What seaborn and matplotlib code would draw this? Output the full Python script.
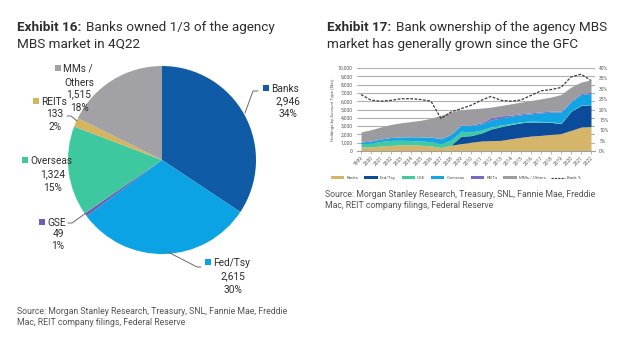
import matplotlib
matplotlib.use("Agg")
import matplotlib.pyplot as plt
import seaborn as sns
import numpy as np
import pandas as pd
from matplotlib.lines import Line2D
from matplotlib.patches import Patch, Rectangle

# ---------------- data ----------------
pie_names = ["Banks", "Fed/Tsy", "GSE", "Overseas", "REITs", "MMs /\nOthers"]
pie_values = [2946, 2615, 49, 1324, 133, 1515]
pie_colors = ["#0f5ba6", "#0ba3e3", "#6a5fb4", "#3ec8a0", "#d6b45e", "#a2a2a6"]

years = list(range(1999, 2023))
banks = [480, 500, 600, 680, 740, 760, 700, 620, 420, 700, 880, 1050, 1200, 1250,
         1280, 1480, 1650, 1800, 1880, 2000, 2100, 2480, 2880, 2946]
fed = [0, 0, 0, 0, 0, 0, 0, 0, 0, 0, 900, 800, 950, 1400,
       1650, 1700, 1750, 1700, 1600, 1450, 1200, 2300, 2600, 2615]
gse = [400, 450, 550, 600, 550, 500, 500, 500, 450, 600, 600, 450, 350, 250,
       200, 150, 120, 100, 80, 70, 60, 50, 50, 49]
overseas = [200, 250, 300, 350, 400, 450, 500, 550, 600, 700, 700, 750, 750, 850,
            850, 850, 840, 880, 1040, 1160, 1340, 1100, 1270, 1324]
reits = [0, 0, 0, 0, 0, 0, 10, 10, 10, 20, 50, 100, 150, 250,
         250, 150, 130, 120, 110, 110, 120, 100, 120, 133]
others = [1220, 1360, 1450, 1570, 1710, 1840, 1990, 2270, 2820, 2680, 1830, 1930, 1760, 1280,
          1250, 1350, 1390, 1480, 1570, 1710, 1980, 1670, 1380, 1515]
bank_pct = [27.2, 24.5, 24.0, 24.4, 25.2, 25.2, 24.8, 24.0, 15.6, 18.8, 20.4, 22.0, 24.4, 26.3,
            24.4, 24.0, 24.6, 26.8, 29.0, 29.6, 30.6, 35.7, 37.0, 34.0]
series_names = ["Banks", "Fed/Tsy", "GSE", "Overseas", "REITs", "MMs / Others"]
area_colors = ["#d4b56a", "#0b4c9a", "#40c9a2", "#13a4e4", "#7a68c6", "#9c9ca0"]
line_name = "Bank %"
left_ticks = list(range(0, 10001, 1000))
right_ticks = list(range(0, 41, 5))

title1_bold = "Exhibit 16:"
title1_rest = ["Banks owned 1/3 of the agency", "MBS market in 4Q22"]
title2_bold = "Exhibit 17:"
title2_rest = ["Bank ownership of the agency MBS", "market has generally grown since the GFC"]
source = ["Source: Morgan Stanley Research, Treasury, SNL, Fannie Mae, Freddie",
          "Mac, REIT company filings, Federal Reserve"]
ylabel = "Holdings by Account Type ($bn)"

# ---------------- setup ----------------
W, H = 640, 342
sns.set_theme(style="white")
plt.rcParams["font.family"] = ["Roboto", "DejaVu Sans"]
fig = plt.figure(figsize=(W / 100, H / 100), dpi=100)
fig.patch.set_facecolor("white")


def fx(px):
    return px / W


def fy(py):
    return 1 - py / H


TXT = "#2e2e2e"
renderer = fig.canvas.get_renderer()


def title(x, y1, y2, bold, rest):
    t = fig.text(fx(x), fy(y1), bold, fontsize=9.7, fontweight="bold", color=TXT, va="baseline")
    bb = t.get_window_extent(renderer=renderer)
    fig.text(bb.x1 / W + fx(5), fy(y1), rest[0], fontsize=9.7, color=TXT, va="baseline")
    fig.text(fx(x), fy(y2), rest[1], fontsize=9.7, color=TXT, va="baseline")


title(17, 30.7, 47.7, title1_bold, title1_rest)
title(327, 30.7, 47.7, title2_bold, title2_rest)

# ---------------- pie ----------------
cx, cy, r = 162, 160, 94
ax_pie = fig.add_axes([fx(cx - r), fy(cy + r), 2 * r / W, 2 * r / H])
ax_pie.pie(pie_values, colors=pie_colors, startangle=90, counterclock=False,
           wedgeprops=dict(linewidth=0))
ax_pie.set_xlim(-1, 1)
ax_pie.set_ylim(-1, 1)
ax_pie.axis("off")

total = sum(pie_values)
# layout: marker position, text centre x, line y centres, leader polyline
layout = [
    dict(m=(266, 88), cxt=288, ys=[88, 101, 113], lead=[(258, 91), (253, 91), (245, 113)]),
    dict(m=(208, 262), cxt=233, ys=[262, 276, 289], lead=[(201, 267), (197, 267), (168, 252)]),
    dict(m=(42, 222), cxt=58, ys=[222, 233.5, 245.5], lead=[(68, 223), (72, 223), (86, 213)]),
    dict(m=(25, 160), cxt=53, ys=[160, 174, 187], lead=None),
    dict(m=(36, 101), cxt=55, ys=[101, 113, 126], lead=[(67, 116), (71, 116), (77, 121)]),
    dict(m=(58, 68), cxt=79, ys=[68, 82, 94, 107], lead=None),
]
for name, val, col, lay in zip(pie_names, pie_values, pie_colors, layout):
    lines = name.split("\n") + [f"{val:,}", f"{round(100 * val / total)}%"]
    for i, (ln, yy) in enumerate(zip(lines, lay["ys"])):
        xx = lay["cxt"]
        if i == 0:
            fig.text(fx(lay["m"][0] + 5), fy(yy + 3.6), ln, fontsize=7.3, color=TXT,
                     ha="left", va="baseline")
        else:
            fig.text(fx(xx), fy(yy + 3.6), ln, fontsize=7.3, color=TXT, ha="center", va="baseline")
    mx, my = lay["m"]
    fig.add_artist(Rectangle((fx(mx - 2.6), fy(my + 2.6)), 5.2 / W, 5.2 / H,
                             transform=fig.transFigure, color=col, lw=0))
    if lay["lead"]:
        xs = [fx(p[0]) for p in lay["lead"]]
        ys = [fy(p[1]) for p in lay["lead"]]
        fig.add_artist(Line2D(xs, ys, transform=fig.transFigure, color="#6a6a6a", lw=0.7))

for i, s in enumerate(source):
    fig.text(fx(17), fy(314.3 + 11 * i), s, fontsize=6.35, color="#555555", va="baseline")

# ---------------- stacked area ----------------
ax = fig.add_axes([fx(357), fy(151), (595 - 357) / W, (151 - 68) / H])
ax.stackplot(years, banks, fed, gse, overseas, reits, others, colors=area_colors,
             linewidth=0, labels=series_names)
ax.set_xlim(years[0] - 0.4, years[-1] + 0.4)
ax.set_ylim(0, 10000)
ax.set_yticks(left_ticks)
ax.set_yticklabels([f"{v:,}" for v in left_ticks])
ax.set_xticks(years)
ax.set_xticklabels([str(y) for y in years], rotation=45, ha="right", rotation_mode="anchor")
ax.grid(axis="y", color="#b0b0b0", lw=0.8)
ax.grid(axis="x", visible=False)
ax.set_axisbelow(True)
for s in ["top", "left", "right"]:
    ax.spines[s].set_visible(False)
ax.spines["bottom"].set_color("#a0a0a0")
ax.spines["bottom"].set_linewidth(0.8)
ax.tick_params(axis="y", length=0, labelsize=3.6, labelcolor="#555555", pad=3)
ax.tick_params(axis="x", length=2, width=0.5, color="#a0a0a0", labelsize=3.5,
               labelcolor="#555555", pad=1.5, bottom=True)
ax.set_ylabel(ylabel, fontsize=3.2, color="#555555", labelpad=2)

ax2 = ax.twinx()
df_line = pd.DataFrame({"year": years, "pct": bank_pct})
sns.lineplot(data=df_line, x="year", y="pct", ax=ax2, color="#3a3a3a", lw=0.9,
             linestyle=(0, (2.2, 1.2)))
ax2.set_ylim(0, 40)
ax2.set_yticks(right_ticks)
ax2.set_yticklabels([f"{v}%" for v in right_ticks])
ax2.set_ylabel("")
ax2.set_xlabel("")
ax.set_xlabel("")
for s in ax2.spines.values():
    s.set_visible(False)
ax2.tick_params(axis="y", length=0, labelsize=3.6, labelcolor="#555555", pad=3)
ax2.grid(False)

handles = [Patch(facecolor=c, edgecolor="none") for c in area_colors]
handles.append(Line2D([0], [0], color="#3a3a3a", lw=0.8, linestyle=(0, (2, 1))))
fig.legend(handles, series_names + [line_name], loc="center",
           bbox_to_anchor=(fx(456), fy(178)), ncol=7, frameon=False, fontsize=3.2,
           handlelength=3.0, handleheight=0.45, columnspacing=1.3, handletextpad=0.5,
           labelcolor="#555555")

for i, s in enumerate(source):
    fig.text(fx(325), fy(196.7 + 11.5 * i), s, fontsize=6.35, color="#555555", va="baseline")

fig.savefig("out.png", dpi=100)
